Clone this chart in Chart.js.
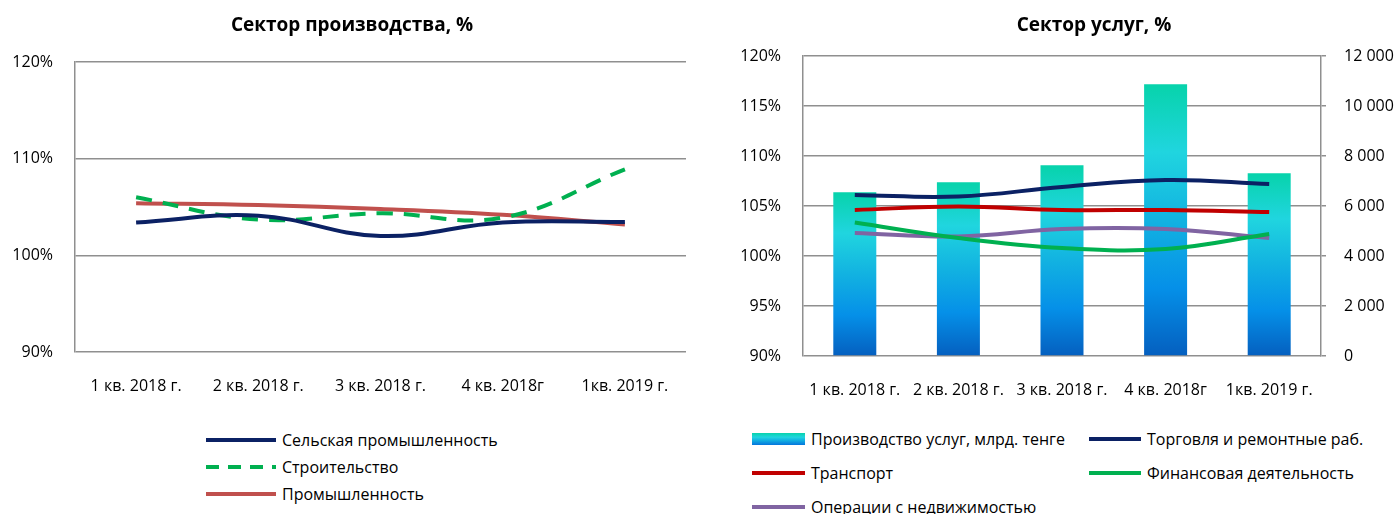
<!DOCTYPE html>
<html>
<head>
<meta charset="utf-8">
<script src="https://cdn.jsdelivr.net/npm/chart.js@4.4.1/dist/chart.umd.min.js"></script>
<style>
  body { margin: 0; background: #fff; font-family: "Open Sans", sans-serif; color: #000; }
  #wrap { position: relative; width: 1395px; height: 514px; overflow: hidden; }
  .box { position: absolute; top: 0; height: 420px; }
  .title { position: absolute; top: 11px; font-weight: bold; font-size: 19px; text-align: center; white-space: nowrap; }
  .leg { position: absolute; font-size: 16px; white-space: nowrap; line-height: 22px; }
  .leg .mk { position: absolute; top: 9px; height: 4px; }
</style>
</head>
<body>
<div id="wrap">
  <div class="box" style="left:0;width:697px"><canvas id="prodChart"></canvas></div>
  <div class="box" style="left:697px;width:698px"><canvas id="servChart"></canvas></div>
  <div class="title" style="left:152px;width:400px">Сектор производства, %</div>
  <div class="title" style="left:894px;width:400px">Сектор услуг, %</div>
  <div id="legLeft"></div>
  <div id="legRight"></div>
</div>
<script>
  const categories = ['1 кв. 2018 г.', '2 кв. 2018 г.', '3 кв. 2018 г.', '4 кв. 2018г', '1кв. 2019 г.'];

  // сектор производства, %
  const agriculture = [103.4, 104.1, 102.0, 103.4, 103.45];
  const construction = [106.0, 103.7, 104.35, 103.9, 108.9];
  const industry = [105.4, 105.2, 104.8, 104.2, 103.2];

  // сектор услуг
  const servicesOutput = [6550, 6950, 7630, 10870, 7310]; // млрд. тенге
  const trade = [106.1, 105.95, 106.9, 107.6, 107.2];
  const transport = [104.6, 104.95, 104.6, 104.6, 104.4];
  const finance = [103.35, 101.8, 100.8, 100.7, 102.2];
  const realEstate = [102.3, 101.95, 102.7, 102.7, 101.8];

  const gridColor = '#8f8f8f';
  const fontSpec = { family: '"Open Sans", sans-serif', size: 16 };
  Chart.defaults.color = '#000';
  Chart.defaults.animation = false;

  function lineSet(label, data, color, dash) {
    return {
      type: 'line', label: label, data: data,
      borderColor: color, backgroundColor: color,
      borderWidth: 4, borderDash: dash || [], pointRadius: 0,
      tension: 0.4, fill: false, order: 1
    };
  }

  function barGradient(ctx) {
    const chart = ctx.chart;
    const y1 = chart.scales.y1;
    if (!y1 || typeof ctx.raw !== 'number') return '#12b5e0';
    const top = y1.getPixelForValue(ctx.raw);
    const base = y1.getPixelForValue(0);
    if (!isFinite(top) || !isFinite(base) || top === base) return '#12b5e0';
    const g = chart.ctx.createLinearGradient(0, top, 0, base);
    g.addColorStop(0, '#07d3ab');
    g.addColorStop(0.25, '#20d5df');
    g.addColorStop(0.5, '#12b2e1');
    g.addColorStop(0.75, '#0590e8');
    g.addColorStop(1, '#055fbf');
    return g;
  }

  new Chart(document.getElementById('prodChart'), {
    type: 'line',
    data: {
      labels: categories,
      datasets: [
        lineSet('Сельская промышленность', agriculture, '#0b2164'),
        lineSet('Строительство', construction, '#00b050', [16, 11]),
        lineSet('Промышленность', industry, '#c0504d')
      ]
    },
    options: {
      responsive: true, maintainAspectRatio: false,
      layout: { padding: { top: 62, right: 11, bottom: 0, left: 0 } },
      plugins: { legend: { display: false }, tooltip: { enabled: false } },
      scales: {
        x: {
          offset: true,
          grid: { display: false, drawTicks: false },
          border: { display: false },
          ticks: { font: fontSpec, padding: 25, maxRotation: 0 },
          afterFit: s => { s.height = 68; }
        },
        y: {
          min: 90, max: 120,
          ticks: { stepSize: 10, font: fontSpec, padding: 22, callback: v => v + '%' },
          grid: { color: gridColor, lineWidth: 1.5, drawTicks: false },
          border: { display: true, color: gridColor, width: 1.5 },
          afterFit: s => { s.width = 75; }
        }
      }
    }
  });

  new Chart(document.getElementById('servChart'), {
    data: {
      labels: categories,
      datasets: [
        {
          type: 'bar', label: 'Производство услуг, млрд. тенге', data: servicesOutput,
          yAxisID: 'y1', backgroundColor: barGradient,
          barPercentage: 0.415, categoryPercentage: 1, order: 2
        },
        lineSet('Торговля и ремонтные раб.', trade, '#0b2164'),
        lineSet('Транспорт', transport, '#c00000'),
        lineSet('Финансовая деятельность', finance, '#00b050'),
        lineSet('Операции с недвижимостью', realEstate, '#8064a2')
      ]
    },
    options: {
      responsive: true, maintainAspectRatio: false,
      layout: { padding: { top: 56, right: 0, bottom: 0, left: 0 } },
      plugins: { legend: { display: false }, tooltip: { enabled: false } },
      scales: {
        x: {
          offset: true,
          grid: { display: false, drawTicks: false },
          border: { display: false },
          ticks: { font: fontSpec, padding: 25, maxRotation: 0, autoSkip: false },
          afterFit: s => { s.height = 64; }
        },
        y: {
          position: 'left',
          min: 90, max: 120,
          ticks: { stepSize: 5, font: fontSpec, padding: 22, callback: v => v + '%' },
          grid: { color: gridColor, lineWidth: 1.5, drawTicks: false },
          border: { display: true, color: gridColor, width: 1.5 },
          afterFit: s => { s.width = 106; }
        },
        y1: {
          position: 'right',
          min: 0, max: 12000,
          ticks: {
            stepSize: 2000, font: fontSpec, padding: 18,
            callback: v => String(v).replace(/\B(?=(\d{3})+(?!\d))/g, ' ')
          },
          grid: { drawOnChartArea: false, color: gridColor, tickColor: gridColor, tickLength: 5, lineWidth: 1.5 },
          border: { display: true, color: gridColor, width: 1.5 },
          afterFit: s => { s.width = 74; }
        }
      }
    }
  });

  // легенды
  function legendItem(parent, x, y, w, text, style) {
    const d = document.createElement('div');
    d.className = 'leg';
    d.style.left = x + 'px';
    d.style.top = (y - 11) + 'px';
    d.style.paddingLeft = (w + 6) + 'px';
    const m = document.createElement('div');
    m.className = 'mk';
    m.style.left = '0px';
    m.style.width = w + 'px';
    Object.assign(m.style, style);
    d.appendChild(m);
    d.appendChild(document.createTextNode(text));
    parent.appendChild(d);
  }

  const legLeft = document.getElementById('legLeft');
  legendItem(legLeft, 206, 440, 70, 'Сельская промышленность', { background: '#0b2164' });
  legendItem(legLeft, 206, 467, 70, 'Строительство', {
    background: 'repeating-linear-gradient(90deg, #00b050 0 13px, transparent 13px 22px)'
  });
  legendItem(legLeft, 206, 494, 70, 'Промышленность', { background: '#c0504d' });

  const legRight = document.getElementById('legRight');
  legendItem(legRight, 752, 439, 53, 'Производство услуг, млрд. тенге', {
    top: '5px', height: '12px',
    background: 'linear-gradient(180deg, #07d3ab, #20d5df 35%, #12b2e1 60%, #0575dc)'
  });
  legendItem(legRight, 1089, 439, 52, 'Торговля и ремонтные раб.', { background: '#0b2164' });
  legendItem(legRight, 752, 473, 53, 'Транспорт', { background: '#c00000' });
  legendItem(legRight, 1089, 473, 52, 'Финансовая деятельность', { background: '#00b050' });
  legendItem(legRight, 752, 507, 53, 'Операции с недвижимостью', { background: '#8064a2' });
</script>
</body>
</html>
